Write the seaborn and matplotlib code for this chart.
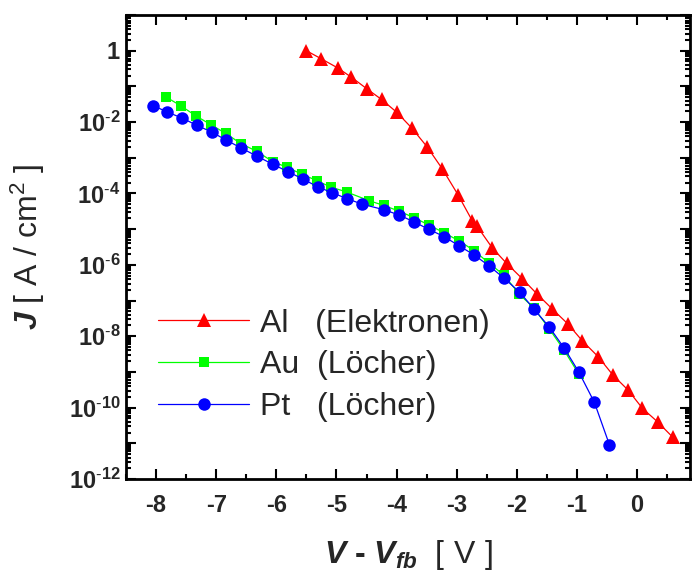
import numpy as np
import pandas as pd
import matplotlib
matplotlib.use("Agg")
import matplotlib.pyplot as plt
import matplotlib.ticker as mticker
import seaborn as sns

# Al contact (electrons)
al_v = [-5.50, -5.25, -4.98, -4.75, -4.50, -4.25, -4.00, -3.75, -3.49, -3.24,
        -2.98, -2.74, -2.66, -2.41, -2.17, -1.91, -1.66, -1.41, -1.15, -0.91,
        -0.65, -0.40, -0.15, 0.09, 0.34, 0.59]
al_j = [1.0e0, 5.9e-1, 3.3e-1, 1.8e-1, 8.7e-2, 4.3e-2, 1.9e-2, 6.9e-3, 2.0e-3, 4.9e-4,
        9.3e-5, 1.7e-5, 1.2e-5, 3.0e-6, 1.1e-6, 4.1e-7, 1.5e-7, 5.8e-8, 2.2e-8, 7.4e-9,
        2.7e-9, 8.1e-10, 3.1e-10, 9.5e-11, 4.0e-11, 1.5e-11]

# Au contact (holes)
au_v = [-7.83, -7.58, -7.34, -7.09, -6.84, -6.59, -6.32, -6.06, -5.82, -5.58,
        -5.33, -5.09, -4.83, -4.46, -4.21, -3.96, -3.71, -3.46, -3.21, -2.96,
        -2.71, -2.46, -2.21, -1.96, -1.72, -1.46, -1.22, -0.97]
au_j = [5.0e-2, 2.8e-2, 1.5e-2, 8.5e-3, 4.8e-3, 2.5e-3, 1.5e-3, 7.8e-4, 5.4e-4, 3.5e-4,
        2.3e-4, 1.5e-4, 1.1e-4, 6.3e-5, 4.6e-5, 3.2e-5, 2.1e-5, 1.3e-5, 7.9e-6, 4.7e-6,
        2.5e-6, 1.1e-6, 5.1e-7, 1.5e-7, 6.3e-8, 1.6e-8, 4.2e-9, 8.7e-10]

# Pt contact (holes)
pt_v = [-8.05, -7.81, -7.57, -7.32, -7.07, -6.83, -6.59, -6.32, -6.06, -5.81,
        -5.55, -5.30, -5.07, -4.82, -4.57, -4.21, -3.96, -3.71, -3.46, -3.21,
        -2.96, -2.71, -2.46, -2.21, -1.95, -1.72, -1.46, -1.21, -0.97, -0.71, -0.46]
pt_j = [2.9e-2, 1.9e-2, 1.3e-2, 8.1e-3, 5.2e-3, 3.1e-3, 1.9e-3, 1.1e-3, 6.6e-4, 4.1e-4,
        2.5e-4, 1.5e-4, 1.05e-4, 7.1e-5, 5.0e-5, 3.5e-5, 2.5e-5, 1.6e-5, 9.8e-6, 6.2e-6,
        3.4e-6, 1.9e-6, 9.3e-7, 4.2e-7, 1.7e-7, 5.9e-8, 1.8e-8, 4.6e-9, 1.0e-9, 1.4e-10, 9.1e-12]

labels = ["Al   (Elektronen)", "Au  (Löcher)", "Pt   (Löcher)"]

sns.set_style("ticks")
plt.rcParams["font.family"] = ["Liberation Sans", "DejaVu Sans"]
plt.rcParams["mathtext.fontset"] = "custom"
plt.rcParams["mathtext.rm"] = "Liberation Sans"
plt.rcParams["mathtext.it"] = "Liberation Sans:italic:bold"
plt.rcParams["mathtext.bf"] = "Liberation Sans:bold"
plt.rcParams["axes.unicode_minus"] = False

fig = plt.figure(figsize=(6.93, 5.74), dpi=100)
ax = fig.add_axes([126 / 693, 1 - 479 / 574, 564 / 693, 464 / 574])

al = pd.DataFrame({"V": al_v, "J": al_j})
au = pd.DataFrame({"V": au_v, "J": au_j})
pt = pd.DataFrame({"V": pt_v, "J": pt_j})

sns.lineplot(data=al, x="V", y="J", ax=ax, color="#ff0000", marker="^", markersize=10,
             markeredgewidth=0, linewidth=0.9, label=labels[0])
sns.lineplot(data=au, x="V", y="J", ax=ax, color="#00ff00", marker="s", markersize=7,
             markeredgewidth=0, linewidth=0.9, label=labels[1])
sns.lineplot(data=pt, x="V", y="J", ax=ax, color="#0000ff", marker="o", markersize=9,
             markeredgewidth=0, linewidth=0.9, label=labels[2])

ax.set_yscale("log")
ax.set_xlim(-8.5, 0.88)
ax.set_ylim(1e-12, 10)

ax.xaxis.set_major_locator(mticker.MultipleLocator(1))
ax.xaxis.set_minor_locator(mticker.MultipleLocator(0.5))
ax.yaxis.set_major_locator(mticker.LogLocator(base=10, numticks=30))
ax.yaxis.set_minor_locator(mticker.LogLocator(base=10, subs=np.arange(2, 10), numticks=30))
ax.yaxis.set_minor_formatter(mticker.NullFormatter())


def ylab(v, pos):
    e = int(round(np.log10(v)))
    if e % 2:
        return ""
    if e == 0:
        return r"$\mathbf{1}$"
    return r"$\mathbf{10}^{\mathbf{\text{-}%d}}$" % abs(e)


ax.yaxis.set_major_formatter(mticker.FuncFormatter(ylab))
ax.xaxis.set_major_formatter(mticker.FuncFormatter(lambda v, pos: "%d" % int(round(v))))

ax.tick_params(which="both", direction="in", top=True, right=True, width=1.5, color="black")
ax.tick_params(which="major", length=7)
ax.tick_params(which="minor", length=3.5)
ax.tick_params(axis="x", which="major", length=7, pad=11, labelsize=17)
ax.tick_params(axis="y", which="major", pad=4, labelsize=17)
for s in ax.spines.values():
    s.set_linewidth(2)
    s.set_color("black")
plt.setp(ax.get_xticklabels(), fontweight="bold")

ax.set_xlabel(r"$\mathit{V}$ - $\mathit{V}_{\mathit{fb}}$  $\mathrm{[\ V\ ]}$", fontsize=23,
              fontweight="bold", labelpad=15)
ax.set_ylabel(r"$\mathit{J}$ [ A / cm$^{2}$ ]", fontsize=23)
ax.yaxis.set_label_coords(-0.14, 0.5)

ax.legend(frameon=False, loc="center left", bbox_to_anchor=(0.057, 0.245),
          borderpad=0, borderaxespad=0, handlelength=2.85, handletextpad=0.35,
          labelspacing=0.37, fontsize=23)

fig.savefig("out.png", dpi=100)
